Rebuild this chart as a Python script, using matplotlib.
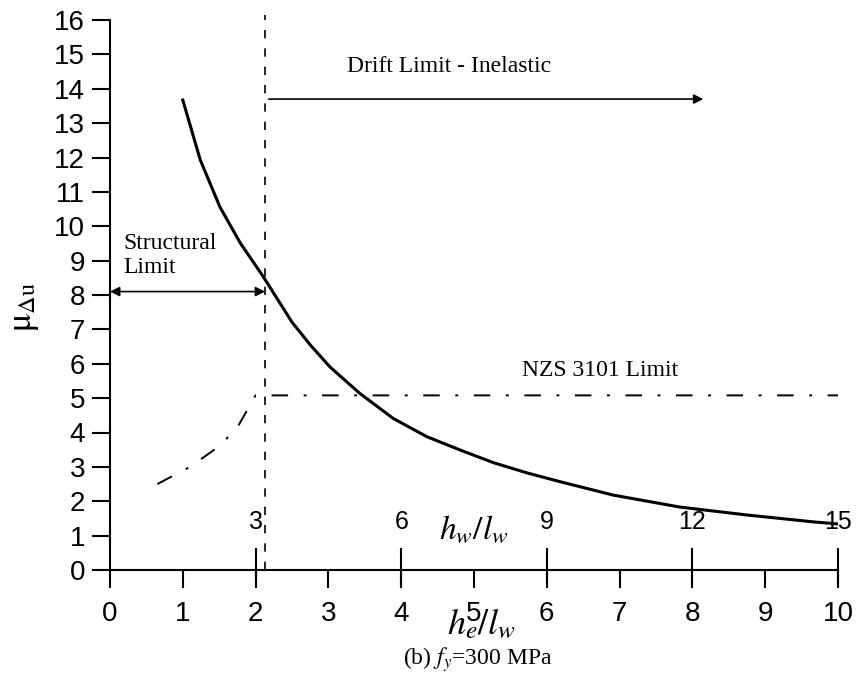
import matplotlib
matplotlib.use("Agg")
import matplotlib.pyplot as plt

plt.rcParams['mathtext.fontset'] = 'stix'

# Data
curve_x = [1.0, 1.24, 1.51, 1.79, 2.1, 2.5, 2.75, 3.02, 3.43, 3.89, 4.35, 4.81, 5.27,
           5.72, 6.18, 6.91, 7.83, 8.75, 9.66, 10.0]
curve_y = [13.67, 11.93, 10.56, 9.51, 8.55, 7.21, 6.55, 5.91, 5.14, 4.41, 3.88, 3.49, 3.12,
           2.83, 2.57, 2.18, 1.83, 1.6, 1.4, 1.34]

nzs_x = [0.65, 1.1, 1.5, 1.75, 2.0, 10.0]
nzs_y = [2.5, 3.0, 3.6, 4.15, 5.08, 5.08]

drift_limit_x = 2.13
structural_arrow_y = 8.1
drift_arrow_y = 13.7
drift_arrow_end = 8.15

x_ticks = list(range(0, 11))
y_ticks = list(range(0, 17))
sec_ticks_x = [2, 4, 6, 8, 10]
sec_labels = ['3', '6', '9', '12', '15']

W, H = 856, 682
fig = plt.figure(figsize=(W / 100, H / 100), dpi=100)
ymax = 16.2
ax = fig.add_axes([110 / W, (H - 570) / H, 728 / W, (ymax * 34.375) / H])
ax.set_xlim(0, 10)
ax.set_ylim(0, ymax)

for s in ['top', 'right']:
    ax.spines[s].set_visible(False)
ax.spines['left'].set_bounds(0, 16)
ax.spines['left'].set_linewidth(1.5)
ax.spines['bottom'].set_linewidth(1.5)

tick_font = dict(family=['Liberation Sans', 'DejaVu Sans'], size=20)
ax.set_xticks(x_ticks)
ax.set_yticks(y_ticks)
ax.set_xticklabels([str(v) for v in x_ticks], **tick_font)
ax.set_yticklabels([str(v) for v in y_ticks], **tick_font)
ax.tick_params(axis='both', direction='out', length=13, width=1.5, pad=5)
ax.tick_params(axis='x', pad=9)

# secondary axis ticks (h_w/l_w)
ax.vlines(sec_ticks_x, -0.44, 0.64, colors='black', lw=1.5, clip_on=False)
sec_font = dict(family=['Liberation Sans', 'DejaVu Sans'], size=18)
for xv, lab in zip(sec_ticks_x, sec_labels):
    ax.text(xv, 1.4, lab, ha='center', va='center', **sec_font)
ax.text(4.99, 1.2, r'$h_w/l_w$', ha='center', va='center', fontsize=24)

# main curve
ax.plot(curve_x, curve_y, color='black', lw=2.2, solid_joinstyle='round')

# NZS limit
ax.plot(nzs_x, nzs_y, color='black', lw=1.4, linestyle=(0, (8.5, 8, 1.5, 8)))

# vertical drift limit line
ax.plot([drift_limit_x, drift_limit_x], [0, 16.15], color='black', lw=1.2,
        linestyle=(0, (5, 6)), clip_on=False)

serif = dict(family=['Liberation Serif', 'DejaVu Serif'])

# Structural limit arrow
ax.annotate('', xy=(0, structural_arrow_y), xytext=(drift_limit_x, structural_arrow_y),
            arrowprops=dict(arrowstyle='<|-|>', color='black', lw=1.2,
                            mutation_scale=14, shrinkA=0, shrinkB=0))
ax.text(0.19, 9.8, 'Structural\nLimit', ha='left', va='top', fontsize=17,
        linespacing=1.15, **serif)

# Drift limit arrow
ax.annotate('', xy=(drift_arrow_end, drift_arrow_y), xytext=(drift_limit_x + 0.05, drift_arrow_y),
            arrowprops=dict(arrowstyle='-|>', color='black', lw=1.2,
                            mutation_scale=14, shrinkA=0, shrinkB=0))
ax.text(3.26, 14.65, 'Drift Limit - Inelastic', ha='left', va='center', fontsize=17, **serif)

# NZS label
ax.text(5.66, 5.8, 'NZS 3101 Limit', ha='left', va='center', fontsize=17, **serif)

# axis labels
fig.text(24 / W, 1 - 307 / H, r'$\mathrm{\mu}_{\Delta\mathrm{u}}$', rotation=90, ha='center',
         va='center', fontsize=25)
fig.text(482 / W, 1 - 624 / H, r'$h_e/l_w$', ha='center', va='center', fontsize=26)
fig.text(478 / W, 1 - 660 / H, r'(b) $f_y$=300 MPa', ha='center', va='center',
         fontsize=17, **serif)

fig.savefig('out.png', dpi=100)
